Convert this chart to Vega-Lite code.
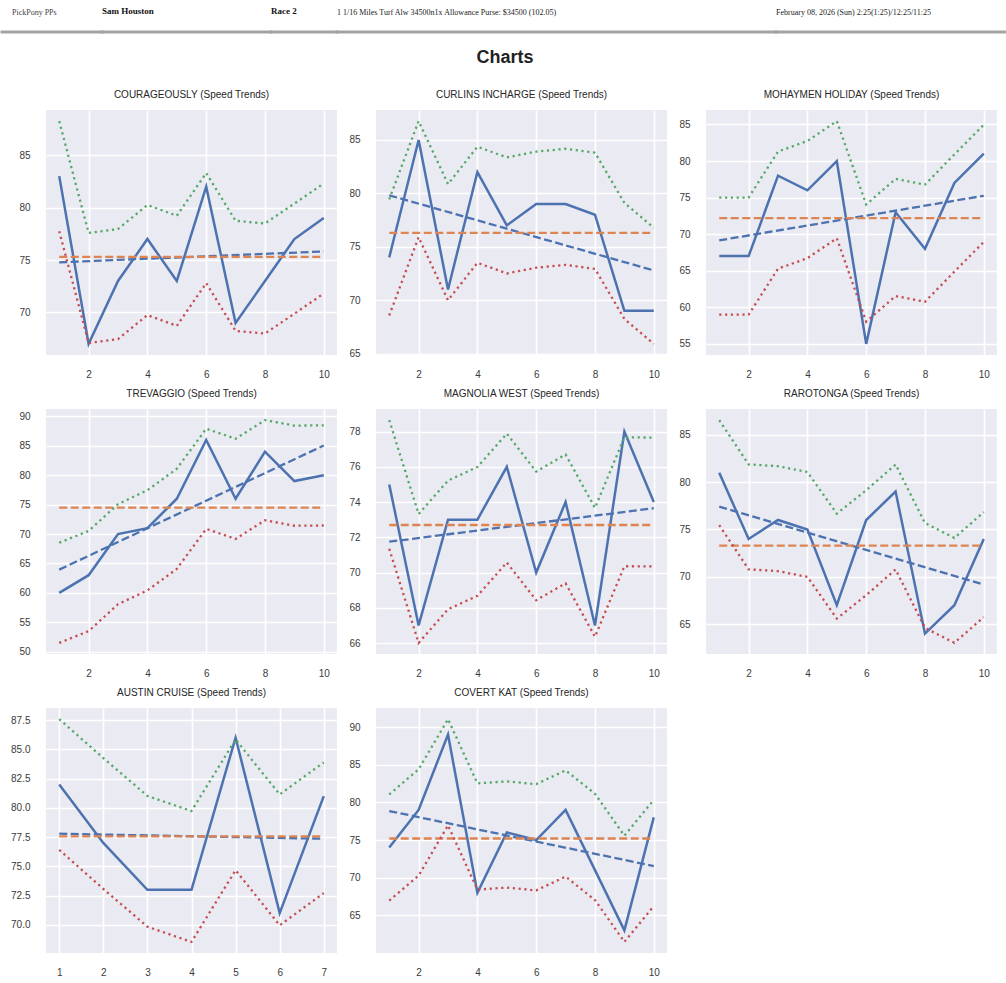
{
  "$schema": "https://vega.github.io/schema/vega-lite/v6.json",
  "background": "white",
  "padding": {"top": 5, "left": 0, "right": 0, "bottom": 0},
  "columns": 1,
  "align": "none",
  "spacing": 15,
  "datasets": {
    "runs": [
      {"horse": "COURAGEOUSLY", "race": 1, "speed": 83, "upper": 88.25, "lower": 77.75},
      {"horse": "COURAGEOUSLY", "race": 2, "speed": 67, "upper": 77.58, "lower": 67.08},
      {"horse": "COURAGEOUSLY", "race": 3, "speed": 73, "upper": 77.96, "lower": 67.46},
      {"horse": "COURAGEOUSLY", "race": 4, "speed": 77, "upper": 80.25, "lower": 69.75},
      {"horse": "COURAGEOUSLY", "race": 5, "speed": 73, "upper": 79.22, "lower": 68.72},
      {"horse": "COURAGEOUSLY", "race": 6, "speed": 82, "upper": 83.30, "lower": 72.80},
      {"horse": "COURAGEOUSLY", "race": 7, "speed": 69, "upper": 78.74, "lower": 68.24},
      {"horse": "COURAGEOUSLY", "race": 8, "speed": 73, "upper": 78.49, "lower": 67.99},
      {"horse": "COURAGEOUSLY", "race": 9, "speed": 77, "upper": 80.38, "lower": 69.88},
      {"horse": "COURAGEOUSLY", "race": 10, "speed": 79, "upper": 82.31, "lower": 71.81},
      {"horse": "CURLINS INCHARGE", "race": 1, "speed": 74, "upper": 79.44, "lower": 68.56},
      {"horse": "CURLINS INCHARGE", "race": 2, "speed": 85, "upper": 86.77, "lower": 75.90},
      {"horse": "CURLINS INCHARGE", "race": 3, "speed": 71, "upper": 80.87, "lower": 69.99},
      {"horse": "CURLINS INCHARGE", "race": 4, "speed": 82, "upper": 84.37, "lower": 73.50},
      {"horse": "CURLINS INCHARGE", "race": 5, "speed": 77, "upper": 83.37, "lower": 72.50},
      {"horse": "CURLINS INCHARGE", "race": 6, "speed": 79, "upper": 83.91, "lower": 73.04},
      {"horse": "CURLINS INCHARGE", "race": 7, "speed": 79, "upper": 84.18, "lower": 73.30},
      {"horse": "CURLINS INCHARGE", "race": 8, "speed": 78, "upper": 83.81, "lower": 72.93},
      {"horse": "CURLINS INCHARGE", "race": 9, "speed": 69, "upper": 79.11, "lower": 68.24},
      {"horse": "CURLINS INCHARGE", "race": 10, "speed": 69, "upper": 76.77, "lower": 65.90},
      {"horse": "MOHAYMEN HOLIDAY", "race": 1, "speed": 67, "upper": 75.01, "lower": 58.99},
      {"horse": "MOHAYMEN HOLIDAY", "race": 2, "speed": 67, "upper": 75.01, "lower": 58.99},
      {"horse": "MOHAYMEN HOLIDAY", "race": 3, "speed": 78, "upper": 81.30, "lower": 65.28},
      {"horse": "MOHAYMEN HOLIDAY", "race": 4, "speed": 76, "upper": 82.74, "lower": 66.72},
      {"horse": "MOHAYMEN HOLIDAY", "race": 5, "speed": 80, "upper": 85.46, "lower": 69.44},
      {"horse": "MOHAYMEN HOLIDAY", "race": 6, "speed": 55, "upper": 74.06, "lower": 58.04},
      {"horse": "MOHAYMEN HOLIDAY", "race": 7, "speed": 73, "upper": 77.56, "lower": 61.54},
      {"horse": "MOHAYMEN HOLIDAY", "race": 8, "speed": 68, "upper": 76.78, "lower": 60.76},
      {"horse": "MOHAYMEN HOLIDAY", "race": 9, "speed": 77, "upper": 80.91, "lower": 64.88},
      {"horse": "MOHAYMEN HOLIDAY", "race": 10, "speed": 81, "upper": 84.96, "lower": 68.94},
      {"horse": "TREVAGGIO", "race": 1, "speed": 60, "upper": 68.52, "lower": 51.49},
      {"horse": "TREVAGGIO", "race": 2, "speed": 63, "upper": 70.52, "lower": 53.49},
      {"horse": "TREVAGGIO", "race": 3, "speed": 70, "upper": 75.09, "lower": 58.06},
      {"horse": "TREVAGGIO", "race": 4, "speed": 71, "upper": 77.45, "lower": 60.42},
      {"horse": "TREVAGGIO", "race": 5, "speed": 76, "upper": 81.10, "lower": 64.07},
      {"horse": "TREVAGGIO", "race": 6, "speed": 86, "upper": 87.91, "lower": 70.88},
      {"horse": "TREVAGGIO", "race": 7, "speed": 76, "upper": 86.20, "lower": 69.17},
      {"horse": "TREVAGGIO", "race": 8, "speed": 84, "upper": 89.37, "lower": 72.34},
      {"horse": "TREVAGGIO", "race": 9, "speed": 79, "upper": 88.44, "lower": 71.41},
      {"horse": "TREVAGGIO", "race": 10, "speed": 80, "upper": 88.48, "lower": 71.45},
      {"horse": "MAGNOLIA WEST", "race": 1, "speed": 75, "upper": 78.65, "lower": 71.35},
      {"horse": "MAGNOLIA WEST", "race": 2, "speed": 67, "upper": 73.32, "lower": 66.01},
      {"horse": "MAGNOLIA WEST", "race": 3, "speed": 73, "upper": 75.22, "lower": 67.92},
      {"horse": "MAGNOLIA WEST", "race": 4, "speed": 73, "upper": 75.99, "lower": 68.68},
      {"horse": "MAGNOLIA WEST", "race": 5, "speed": 76, "upper": 77.88, "lower": 70.57},
      {"horse": "MAGNOLIA WEST", "race": 6, "speed": 70, "upper": 75.73, "lower": 68.43},
      {"horse": "MAGNOLIA WEST", "race": 7, "speed": 74, "upper": 76.70, "lower": 69.39},
      {"horse": "MAGNOLIA WEST", "race": 8, "speed": 67, "upper": 73.67, "lower": 66.36},
      {"horse": "MAGNOLIA WEST", "race": 9, "speed": 78, "upper": 77.67, "lower": 70.36},
      {"horse": "MAGNOLIA WEST", "race": 10, "speed": 74, "upper": 77.66, "lower": 70.35},
      {"horse": "RAROTONGA", "race": 1, "speed": 81, "upper": 86.54, "lower": 75.46},
      {"horse": "RAROTONGA", "race": 2, "speed": 74, "upper": 81.87, "lower": 70.79},
      {"horse": "RAROTONGA", "race": 3, "speed": 76, "upper": 81.68, "lower": 70.60},
      {"horse": "RAROTONGA", "race": 4, "speed": 75, "upper": 81.07, "lower": 69.99},
      {"horse": "RAROTONGA", "race": 5, "speed": 67, "upper": 76.67, "lower": 65.59},
      {"horse": "RAROTONGA", "race": 6, "speed": 76, "upper": 79.14, "lower": 68.06},
      {"horse": "RAROTONGA", "race": 7, "speed": 79, "upper": 81.86, "lower": 70.78},
      {"horse": "RAROTONGA", "race": 8, "speed": 64, "upper": 75.68, "lower": 64.60},
      {"horse": "RAROTONGA", "race": 9, "speed": 67, "upper": 74.11, "lower": 63.03},
      {"horse": "RAROTONGA", "race": 10, "speed": 74, "upper": 76.83, "lower": 65.75},
      {"horse": "AUSTIN CRUISE", "race": 1, "speed": 82, "upper": 87.59, "lower": 76.41},
      {"horse": "AUSTIN CRUISE", "race": 2, "speed": 77, "upper": 84.26, "lower": 73.07},
      {"horse": "AUSTIN CRUISE", "race": 3, "speed": 73, "upper": 81.02, "lower": 69.84},
      {"horse": "AUSTIN CRUISE", "race": 4, "speed": 73, "upper": 79.73, "lower": 68.54},
      {"horse": "AUSTIN CRUISE", "race": 5, "speed": 86, "upper": 85.85, "lower": 74.67},
      {"horse": "AUSTIN CRUISE", "race": 6, "speed": 71, "upper": 81.15, "lower": 69.96},
      {"horse": "AUSTIN CRUISE", "race": 7, "speed": 81, "upper": 83.89, "lower": 72.71},
      {"horse": "COVERT KAT", "race": 1, "speed": 74, "upper": 81.05, "lower": 66.95},
      {"horse": "COVERT KAT", "race": 2, "speed": 79, "upper": 84.39, "lower": 70.28},
      {"horse": "COVERT KAT", "race": 3, "speed": 89, "upper": 91.05, "lower": 76.95},
      {"horse": "COVERT KAT", "race": 4, "speed": 68, "upper": 82.52, "lower": 68.42},
      {"horse": "COVERT KAT", "race": 5, "speed": 76, "upper": 82.79, "lower": 68.69},
      {"horse": "COVERT KAT", "race": 6, "speed": 75, "upper": 82.42, "lower": 68.31},
      {"horse": "COVERT KAT", "race": 7, "speed": 79, "upper": 84.25, "lower": 70.15},
      {"horse": "COVERT KAT", "race": 8, "speed": 71, "upper": 81.14, "lower": 67.03},
      {"horse": "COVERT KAT", "race": 9, "speed": 63, "upper": 75.58, "lower": 61.48},
      {"horse": "COVERT KAT", "race": 10, "speed": 78, "upper": 80.32, "lower": 66.22}
    ],
    "lines": [
      {"horse": "COURAGEOUSLY", "race": 1, "mean": 75.3, "trend": 74.78},
      {"horse": "COURAGEOUSLY", "race": 10, "mean": 75.3, "trend": 75.82},
      {"horse": "CURLINS INCHARGE", "race": 1, "mean": 76.3, "trend": 79.82},
      {"horse": "CURLINS INCHARGE", "race": 10, "mean": 76.3, "trend": 72.78},
      {"horse": "MOHAYMEN HOLIDAY", "race": 1, "mean": 72.2, "trend": 69.15},
      {"horse": "MOHAYMEN HOLIDAY", "race": 10, "mean": 72.2, "trend": 75.25},
      {"horse": "TREVAGGIO", "race": 1, "mean": 74.5, "trend": 63.95},
      {"horse": "TREVAGGIO", "race": 10, "mean": 74.5, "trend": 85.05},
      {"horse": "MAGNOLIA WEST", "race": 1, "mean": 72.7, "trend": 71.75},
      {"horse": "MAGNOLIA WEST", "race": 10, "mean": 72.7, "trend": 73.65},
      {"horse": "RAROTONGA", "race": 1, "mean": 73.3, "trend": 77.42},
      {"horse": "RAROTONGA", "race": 10, "mean": 73.3, "trend": 69.18},
      {"horse": "AUSTIN CRUISE", "race": 1, "mean": 77.57, "trend": 77.79},
      {"horse": "AUSTIN CRUISE", "race": 7, "mean": 77.57, "trend": 77.36},
      {"horse": "COVERT KAT", "race": 1, "mean": 75.2, "trend": 78.85},
      {"horse": "COVERT KAT", "race": 10, "mean": 75.2, "trend": 71.55}
    ]
  },
  "concat": [
    {
      "hconcat": [
        {"width": 100, "height": 0.01, "data": {"values": []}, "mark": "text", "encoding": {}, "view": {"fill": null, "stroke": "#a3a3a3", "strokeWidth": 3},
         "title": {"text": "PickPony PPs", "anchor": "start", "dx": 10, "font": "Liberation Serif", "fontSize": 8, "fontWeight": "normal", "color": "#444444", "offset": 9, "baseline": "alphabetic", "frame": "group"}},
        {"width": 169, "height": 0.01, "data": {"values": []}, "mark": "text", "encoding": {}, "view": {"fill": null, "stroke": "#a3a3a3", "strokeWidth": 3},
         "title": {"text": "Sam Houston", "anchor": "start", "font": "Liberation Serif", "fontSize": 9, "fontWeight": "bold", "color": "#111111", "offset": 9, "baseline": "alphabetic", "frame": "group"}},
        {"width": 66, "height": 0.01, "data": {"values": []}, "mark": "text", "encoding": {}, "view": {"fill": null, "stroke": "#a3a3a3", "strokeWidth": 3},
         "title": {"text": "Race 2", "anchor": "start", "font": "Liberation Serif", "fontSize": 9, "fontWeight": "bold", "color": "#111111", "offset": 9, "baseline": "alphabetic", "frame": "group"}},
        {"width": 439, "height": 0.01, "data": {"values": []}, "mark": "text", "encoding": {}, "view": {"fill": null, "stroke": "#a3a3a3", "strokeWidth": 3},
         "title": {"text": "1 1/16 Miles Turf Alw 34500n1x Allowance Purse: $34500 (102.05)", "anchor": "start", "font": "Liberation Serif", "fontSize": 8, "fontWeight": "normal", "color": "#222222", "offset": 9, "baseline": "alphabetic", "frame": "group"}},
        {"width": 232, "height": 0.01, "data": {"values": []}, "mark": "text", "encoding": {}, "view": {"fill": null, "stroke": "#a3a3a3", "strokeWidth": 3},
         "title": {"text": "February 08, 2026 (Sun) 2:25(1:25)/12:25/11:25", "anchor": "start", "font": "Liberation Serif", "fontSize": 8, "fontWeight": "normal", "color": "#222222", "offset": 9, "baseline": "alphabetic", "frame": "group"}}
      ],
      "spacing": 0,
      "bounds": "flush"
    },
    {
      "width": 1006, "height": 0.01, "data": {"values": []}, "mark": "text", "encoding": {}, "view": {"fill": null, "stroke": null},
      "title": {"text": "Charts", "anchor": "middle", "font": "Liberation Sans", "fontSize": 18, "fontWeight": "bold", "color": "#222222", "offset": 7, "frame": "group"}
    },
    {
      "columns": 4,
      "bounds": "full",
      "align": "each",
      "spacing": {"row": 9, "column": 3},
      "concat": [
        {"width": 0.01, "height": 245, "data": {"values": []}, "mark": "text", "encoding": {}, "view": {"fill": null, "stroke": null}},
        {
          "title": "COURAGEOUSLY (Speed Trends)", "width": 291, "height": 245,
          "encoding": {"x": {"field": "race", "type": "quantitative", "title": null, "scale": {"domain": [0.55, 10.45], "nice": false, "zero": false}, "axis": {"values": [2, 4, 6, 8, 10], "format": "d"}}},
          "layer": [
            {"data": {"name": "runs"}, "transform": [{"filter": "datum.horse === 'COURAGEOUSLY'"}], "mark": {"type": "line", "color": "#4C72B0", "strokeWidth": 2.5}, "encoding": {"y": {"field": "speed", "type": "quantitative", "title": null, "scale": {"domain": [65.94, 89.31], "nice": false, "zero": false}, "axis": {"values": [70, 75, 80, 85], "format": "d", "minExtent": 40, "maxExtent": 40}}}},
            {"data": {"name": "lines"}, "transform": [{"filter": "datum.horse === 'COURAGEOUSLY'"}], "mark": {"type": "line", "color": "#4C72B0", "strokeWidth": 2.3, "strokeDash": [8, 3.5]}, "encoding": {"y": {"field": "trend", "type": "quantitative", "title": null}}},
            {"data": {"name": "lines"}, "transform": [{"filter": "datum.horse === 'COURAGEOUSLY'"}], "mark": {"type": "line", "color": "#DD8452", "strokeWidth": 2.3, "strokeDash": [8, 3.5]}, "encoding": {"y": {"field": "mean", "type": "quantitative", "title": null}}},
            {"data": {"name": "runs"}, "transform": [{"filter": "datum.horse === 'COURAGEOUSLY'"}], "mark": {"type": "line", "color": "#55A868", "strokeWidth": 2.3, "strokeDash": [2.2, 3.6]}, "encoding": {"y": {"field": "upper", "type": "quantitative", "title": null}}},
            {"data": {"name": "runs"}, "transform": [{"filter": "datum.horse === 'COURAGEOUSLY'"}], "mark": {"type": "line", "color": "#C44E52", "strokeWidth": 2.3, "strokeDash": [2.2, 3.6]}, "encoding": {"y": {"field": "lower", "type": "quantitative", "title": null}}}
          ]
        },
        {
          "title": "CURLINS INCHARGE (Speed Trends)", "width": 291, "height": 245,
          "encoding": {"x": {"field": "race", "type": "quantitative", "title": null, "scale": {"domain": [0.55, 10.45], "nice": false, "zero": false}, "axis": {"values": [2, 4, 6, 8, 10], "format": "d"}}},
          "layer": [
            {"data": {"name": "runs"}, "transform": [{"filter": "datum.horse === 'CURLINS INCHARGE'"}], "mark": {"type": "line", "color": "#4C72B0", "strokeWidth": 2.5}, "encoding": {"y": {"field": "speed", "type": "quantitative", "title": null, "scale": {"domain": [64.86, 87.81], "nice": false, "zero": false}, "axis": {"values": [65, 70, 75, 80, 85], "format": "d", "minExtent": 36, "maxExtent": 36}}}},
            {"data": {"name": "lines"}, "transform": [{"filter": "datum.horse === 'CURLINS INCHARGE'"}], "mark": {"type": "line", "color": "#4C72B0", "strokeWidth": 2.3, "strokeDash": [8, 3.5]}, "encoding": {"y": {"field": "trend", "type": "quantitative", "title": null}}},
            {"data": {"name": "lines"}, "transform": [{"filter": "datum.horse === 'CURLINS INCHARGE'"}], "mark": {"type": "line", "color": "#DD8452", "strokeWidth": 2.3, "strokeDash": [8, 3.5]}, "encoding": {"y": {"field": "mean", "type": "quantitative", "title": null}}},
            {"data": {"name": "runs"}, "transform": [{"filter": "datum.horse === 'CURLINS INCHARGE'"}], "mark": {"type": "line", "color": "#55A868", "strokeWidth": 2.3, "strokeDash": [2.2, 3.6]}, "encoding": {"y": {"field": "upper", "type": "quantitative", "title": null}}},
            {"data": {"name": "runs"}, "transform": [{"filter": "datum.horse === 'CURLINS INCHARGE'"}], "mark": {"type": "line", "color": "#C44E52", "strokeWidth": 2.3, "strokeDash": [2.2, 3.6]}, "encoding": {"y": {"field": "lower", "type": "quantitative", "title": null}}}
          ]
        },
        {
          "title": "MOHAYMEN HOLIDAY (Speed Trends)", "width": 291, "height": 245,
          "encoding": {"x": {"field": "race", "type": "quantitative", "title": null, "scale": {"domain": [0.55, 10.45], "nice": false, "zero": false}, "axis": {"values": [2, 4, 6, 8, 10], "format": "d"}}},
          "layer": [
            {"data": {"name": "runs"}, "transform": [{"filter": "datum.horse === 'MOHAYMEN HOLIDAY'"}], "mark": {"type": "line", "color": "#4C72B0", "strokeWidth": 2.5}, "encoding": {"y": {"field": "speed", "type": "quantitative", "title": null, "scale": {"domain": [53.48, 86.98], "nice": false, "zero": false}, "axis": {"values": [55, 60, 65, 70, 75, 80, 85], "format": "d", "minExtent": 36, "maxExtent": 36}}}},
            {"data": {"name": "lines"}, "transform": [{"filter": "datum.horse === 'MOHAYMEN HOLIDAY'"}], "mark": {"type": "line", "color": "#4C72B0", "strokeWidth": 2.3, "strokeDash": [8, 3.5]}, "encoding": {"y": {"field": "trend", "type": "quantitative", "title": null}}},
            {"data": {"name": "lines"}, "transform": [{"filter": "datum.horse === 'MOHAYMEN HOLIDAY'"}], "mark": {"type": "line", "color": "#DD8452", "strokeWidth": 2.3, "strokeDash": [8, 3.5]}, "encoding": {"y": {"field": "mean", "type": "quantitative", "title": null}}},
            {"data": {"name": "runs"}, "transform": [{"filter": "datum.horse === 'MOHAYMEN HOLIDAY'"}], "mark": {"type": "line", "color": "#55A868", "strokeWidth": 2.3, "strokeDash": [2.2, 3.6]}, "encoding": {"y": {"field": "upper", "type": "quantitative", "title": null}}},
            {"data": {"name": "runs"}, "transform": [{"filter": "datum.horse === 'MOHAYMEN HOLIDAY'"}], "mark": {"type": "line", "color": "#C44E52", "strokeWidth": 2.3, "strokeDash": [2.2, 3.6]}, "encoding": {"y": {"field": "lower", "type": "quantitative", "title": null}}}
          ]
        },
        {"width": 0.01, "height": 245, "data": {"values": []}, "mark": "text", "encoding": {}, "view": {"fill": null, "stroke": null}},
        {
          "title": "TREVAGGIO (Speed Trends)", "width": 291, "height": 245,
          "encoding": {"x": {"field": "race", "type": "quantitative", "title": null, "scale": {"domain": [0.55, 10.45], "nice": false, "zero": false}, "axis": {"values": [2, 4, 6, 8, 10], "format": "d"}}},
          "layer": [
            {"data": {"name": "runs"}, "transform": [{"filter": "datum.horse === 'TREVAGGIO'"}], "mark": {"type": "line", "color": "#4C72B0", "strokeWidth": 2.5}, "encoding": {"y": {"field": "speed", "type": "quantitative", "title": null, "scale": {"domain": [49.60, 91.26], "nice": false, "zero": false}, "axis": {"values": [50, 55, 60, 65, 70, 75, 80, 85, 90], "format": "d", "minExtent": 40, "maxExtent": 40}}}},
            {"data": {"name": "lines"}, "transform": [{"filter": "datum.horse === 'TREVAGGIO'"}], "mark": {"type": "line", "color": "#4C72B0", "strokeWidth": 2.3, "strokeDash": [8, 3.5]}, "encoding": {"y": {"field": "trend", "type": "quantitative", "title": null}}},
            {"data": {"name": "lines"}, "transform": [{"filter": "datum.horse === 'TREVAGGIO'"}], "mark": {"type": "line", "color": "#DD8452", "strokeWidth": 2.3, "strokeDash": [8, 3.5]}, "encoding": {"y": {"field": "mean", "type": "quantitative", "title": null}}},
            {"data": {"name": "runs"}, "transform": [{"filter": "datum.horse === 'TREVAGGIO'"}], "mark": {"type": "line", "color": "#55A868", "strokeWidth": 2.3, "strokeDash": [2.2, 3.6]}, "encoding": {"y": {"field": "upper", "type": "quantitative", "title": null}}},
            {"data": {"name": "runs"}, "transform": [{"filter": "datum.horse === 'TREVAGGIO'"}], "mark": {"type": "line", "color": "#C44E52", "strokeWidth": 2.3, "strokeDash": [2.2, 3.6]}, "encoding": {"y": {"field": "lower", "type": "quantitative", "title": null}}}
          ]
        },
        {
          "title": "MAGNOLIA WEST (Speed Trends)", "width": 291, "height": 245,
          "encoding": {"x": {"field": "race", "type": "quantitative", "title": null, "scale": {"domain": [0.55, 10.45], "nice": false, "zero": false}, "axis": {"values": [2, 4, 6, 8, 10], "format": "d"}}},
          "layer": [
            {"data": {"name": "runs"}, "transform": [{"filter": "datum.horse === 'MAGNOLIA WEST'"}], "mark": {"type": "line", "color": "#4C72B0", "strokeWidth": 2.5}, "encoding": {"y": {"field": "speed", "type": "quantitative", "title": null, "scale": {"domain": [65.38, 79.28], "nice": false, "zero": false}, "axis": {"values": [66, 68, 70, 72, 74, 76, 78], "format": "d", "minExtent": 36, "maxExtent": 36}}}},
            {"data": {"name": "lines"}, "transform": [{"filter": "datum.horse === 'MAGNOLIA WEST'"}], "mark": {"type": "line", "color": "#4C72B0", "strokeWidth": 2.3, "strokeDash": [8, 3.5]}, "encoding": {"y": {"field": "trend", "type": "quantitative", "title": null}}},
            {"data": {"name": "lines"}, "transform": [{"filter": "datum.horse === 'MAGNOLIA WEST'"}], "mark": {"type": "line", "color": "#DD8452", "strokeWidth": 2.3, "strokeDash": [8, 3.5]}, "encoding": {"y": {"field": "mean", "type": "quantitative", "title": null}}},
            {"data": {"name": "runs"}, "transform": [{"filter": "datum.horse === 'MAGNOLIA WEST'"}], "mark": {"type": "line", "color": "#55A868", "strokeWidth": 2.3, "strokeDash": [2.2, 3.6]}, "encoding": {"y": {"field": "upper", "type": "quantitative", "title": null}}},
            {"data": {"name": "runs"}, "transform": [{"filter": "datum.horse === 'MAGNOLIA WEST'"}], "mark": {"type": "line", "color": "#C44E52", "strokeWidth": 2.3, "strokeDash": [2.2, 3.6]}, "encoding": {"y": {"field": "lower", "type": "quantitative", "title": null}}}
          ]
        },
        {
          "title": "RAROTONGA (Speed Trends)", "width": 291, "height": 245,
          "encoding": {"x": {"field": "race", "type": "quantitative", "title": null, "scale": {"domain": [0.55, 10.45], "nice": false, "zero": false}, "axis": {"values": [2, 4, 6, 8, 10], "format": "d"}}},
          "layer": [
            {"data": {"name": "runs"}, "transform": [{"filter": "datum.horse === 'RAROTONGA'"}], "mark": {"type": "line", "color": "#4C72B0", "strokeWidth": 2.5}, "encoding": {"y": {"field": "speed", "type": "quantitative", "title": null, "scale": {"domain": [61.85, 87.72], "nice": false, "zero": false}, "axis": {"values": [65, 70, 75, 80, 85], "format": "d", "minExtent": 36, "maxExtent": 36}}}},
            {"data": {"name": "lines"}, "transform": [{"filter": "datum.horse === 'RAROTONGA'"}], "mark": {"type": "line", "color": "#4C72B0", "strokeWidth": 2.3, "strokeDash": [8, 3.5]}, "encoding": {"y": {"field": "trend", "type": "quantitative", "title": null}}},
            {"data": {"name": "lines"}, "transform": [{"filter": "datum.horse === 'RAROTONGA'"}], "mark": {"type": "line", "color": "#DD8452", "strokeWidth": 2.3, "strokeDash": [8, 3.5]}, "encoding": {"y": {"field": "mean", "type": "quantitative", "title": null}}},
            {"data": {"name": "runs"}, "transform": [{"filter": "datum.horse === 'RAROTONGA'"}], "mark": {"type": "line", "color": "#55A868", "strokeWidth": 2.3, "strokeDash": [2.2, 3.6]}, "encoding": {"y": {"field": "upper", "type": "quantitative", "title": null}}},
            {"data": {"name": "runs"}, "transform": [{"filter": "datum.horse === 'RAROTONGA'"}], "mark": {"type": "line", "color": "#C44E52", "strokeWidth": 2.3, "strokeDash": [2.2, 3.6]}, "encoding": {"y": {"field": "lower", "type": "quantitative", "title": null}}}
          ]
        },
        {"width": 0.01, "height": 245, "data": {"values": []}, "mark": "text", "encoding": {}, "view": {"fill": null, "stroke": null}},
        {
          "title": "AUSTIN CRUISE (Speed Trends)", "width": 291, "height": 245,
          "encoding": {"x": {"field": "race", "type": "quantitative", "title": null, "scale": {"domain": [0.7, 7.3], "nice": false, "zero": false}, "axis": {"values": [1, 2, 3, 4, 5, 6, 7], "format": "d"}}},
          "layer": [
            {"data": {"name": "runs"}, "transform": [{"filter": "datum.horse === 'AUSTIN CRUISE'"}], "mark": {"type": "line", "color": "#4C72B0", "strokeWidth": 2.5}, "encoding": {"y": {"field": "speed", "type": "quantitative", "title": null, "scale": {"domain": [67.59, 88.54], "nice": false, "zero": false}, "axis": {"values": [70, 72.5, 75, 77.5, 80, 82.5, 85, 87.5], "format": ".1f", "minExtent": 40, "maxExtent": 40}}}},
            {"data": {"name": "lines"}, "transform": [{"filter": "datum.horse === 'AUSTIN CRUISE'"}], "mark": {"type": "line", "color": "#4C72B0", "strokeWidth": 2.3, "strokeDash": [8, 3.5]}, "encoding": {"y": {"field": "trend", "type": "quantitative", "title": null}}},
            {"data": {"name": "lines"}, "transform": [{"filter": "datum.horse === 'AUSTIN CRUISE'"}], "mark": {"type": "line", "color": "#DD8452", "strokeWidth": 2.3, "strokeDash": [8, 3.5]}, "encoding": {"y": {"field": "mean", "type": "quantitative", "title": null}}},
            {"data": {"name": "runs"}, "transform": [{"filter": "datum.horse === 'AUSTIN CRUISE'"}], "mark": {"type": "line", "color": "#55A868", "strokeWidth": 2.3, "strokeDash": [2.2, 3.6]}, "encoding": {"y": {"field": "upper", "type": "quantitative", "title": null}}},
            {"data": {"name": "runs"}, "transform": [{"filter": "datum.horse === 'AUSTIN CRUISE'"}], "mark": {"type": "line", "color": "#C44E52", "strokeWidth": 2.3, "strokeDash": [2.2, 3.6]}, "encoding": {"y": {"field": "lower", "type": "quantitative", "title": null}}}
          ]
        },
        {
          "title": "COVERT KAT (Speed Trends)", "width": 291, "height": 245,
          "encoding": {"x": {"field": "race", "type": "quantitative", "title": null, "scale": {"domain": [0.55, 10.45], "nice": false, "zero": false}, "axis": {"values": [2, 4, 6, 8, 10], "format": "d"}}},
          "layer": [
            {"data": {"name": "runs"}, "transform": [{"filter": "datum.horse === 'COVERT KAT'"}], "mark": {"type": "line", "color": "#4C72B0", "strokeWidth": 2.5}, "encoding": {"y": {"field": "speed", "type": "quantitative", "title": null, "scale": {"domain": [60.0, 92.53], "nice": false, "zero": false}, "axis": {"values": [65, 70, 75, 80, 85, 90], "format": "d", "minExtent": 36, "maxExtent": 36}}}},
            {"data": {"name": "lines"}, "transform": [{"filter": "datum.horse === 'COVERT KAT'"}], "mark": {"type": "line", "color": "#4C72B0", "strokeWidth": 2.3, "strokeDash": [8, 3.5]}, "encoding": {"y": {"field": "trend", "type": "quantitative", "title": null}}},
            {"data": {"name": "lines"}, "transform": [{"filter": "datum.horse === 'COVERT KAT'"}], "mark": {"type": "line", "color": "#DD8452", "strokeWidth": 2.3, "strokeDash": [8, 3.5]}, "encoding": {"y": {"field": "mean", "type": "quantitative", "title": null}}},
            {"data": {"name": "runs"}, "transform": [{"filter": "datum.horse === 'COVERT KAT'"}], "mark": {"type": "line", "color": "#55A868", "strokeWidth": 2.3, "strokeDash": [2.2, 3.6]}, "encoding": {"y": {"field": "upper", "type": "quantitative", "title": null}}},
            {"data": {"name": "runs"}, "transform": [{"filter": "datum.horse === 'COVERT KAT'"}], "mark": {"type": "line", "color": "#C44E52", "strokeWidth": 2.3, "strokeDash": [2.2, 3.6]}, "encoding": {"y": {"field": "lower", "type": "quantitative", "title": null}}}
          ]
        }
      ]
    }
  ],
  "config": {
    "view": {"fill": "#EAEAF2", "stroke": null},
    "title": {"font": "Liberation Sans", "fontSize": 10, "fontWeight": "normal", "color": "#262626", "offset": 10, "frame": "group", "anchor": "middle"},
    "axis": {"domain": false, "ticks": false, "tickSize": 0, "tickCount": 20, "grid": true, "gridColor": "#ffffff", "gridWidth": 1.6, "labelFont": "Liberation Sans", "labelFontSize": 10, "labelColor": "#3a3a3a", "labelOverlap": false, "labelFlush": false},
    "axisX": {"labelPadding": 14, "minExtent": 25, "maxExtent": 25},
    "axisY": {"labelPadding": 16}
  }
}
